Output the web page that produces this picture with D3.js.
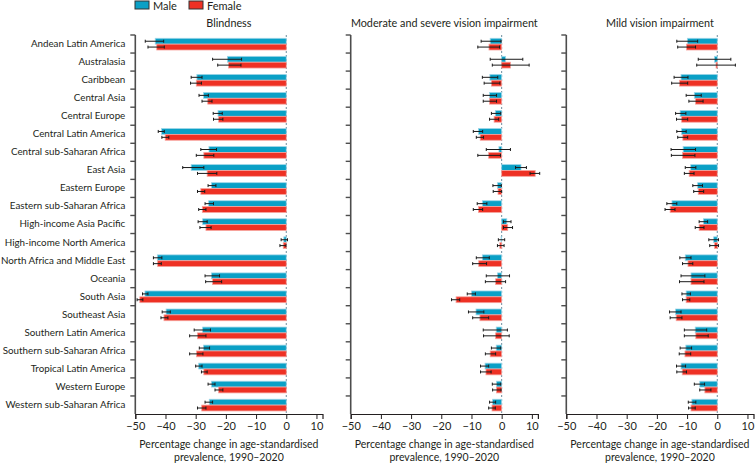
<!DOCTYPE html>
<html>
<head>
<meta charset="utf-8">
<script src="https://cdn.jsdelivr.net/npm/d3@7"></script>
<style>
html,body{margin:0;padding:0;background:#fff;}
svg{display:block;}
text{font-family:Lato,"Noto Sans",sans-serif;fill:#231f20;}
</style>
</head>
<body>
<svg id="chart" width="755" height="464"></svg>
<script>
const categories = ["Andean Latin America","Australasia","Caribbean","Central Asia","Central Europe","Central Latin America","Central sub-Saharan Africa","East Asia","Eastern Europe","Eastern sub-Saharan Africa","High-income Asia Pacific","High-income North America","North Africa and Middle East","Oceania","South Asia","Southeast Asia","Southern Latin America","Southern sub-Saharan Africa","Tropical Latin America","Western Europe","Western sub-Saharan Africa"];
const panelTitles = ["Blindness","Moderate and severe vision impairment","Mild vision impairment"];
const sexes = ["Male","Female"];
const xTicks = [-50,-40,-30,-20,-10,0,10];

// Blindness
const blindMale    = [-43.4,-19.5,-29.6,-27.4,-22.6,-41.3,-25.6,-31.5,-24.8,-25.7,-27.7,-0.8,-42.7,-24.8,-46.8,-39.8,-27.7,-27.4,-29.0,-24.8,-25.5];
const blindMaleLo  = [-46.7,-24.4,-31.5,-28.9,-24.2,-42.4,-28.3,-34.3,-25.9,-26.9,-29.2,-1.7,-44.0,-26.9,-47.6,-41.1,-30.5,-28.8,-30.0,-25.9,-26.9];
const blindMaleHi  = [-40.6,-14.8,-27.9,-25.8,-21.2,-40.4,-23.1,-27.3,-23.3,-24.1,-26.2,0.4,-41.2,-22.1,-45.8,-38.4,-25.1,-25.4,-27.9,-23.6,-24.4];
const blindFem     = [-42.9,-19.1,-29.8,-26.0,-22.4,-40.1,-27.3,-26.2,-28.3,-27.8,-26.6,-1.0,-42.6,-24.4,-48.5,-40.5,-29.4,-29.7,-27.3,-22.4,-28.0];
const blindFemLo   = [-45.8,-22.7,-31.7,-27.9,-24.1,-41.2,-29.8,-29.4,-29.4,-29.0,-28.6,-2.1,-44.0,-26.7,-49.4,-41.5,-32.0,-32.0,-28.1,-23.6,-29.4];
const blindFemHi   = [-40.4,-15.0,-28.1,-24.6,-21.0,-38.9,-24.0,-23.0,-27.0,-26.6,-24.9,-0.1,-41.4,-21.4,-47.5,-39.2,-26.6,-27.6,-26.2,-21.0,-26.6];

// Moderate and severe vision impairment
const mvsMale      = [-3.8,1.3,-3.9,-4.0,-2.1,-7.7,-0.9,6.4,-1.4,-6.4,1.7,-0.2,-6.4,-1.4,-10.0,-8.5,-1.8,-1.8,-5.5,-1.7,-3.0];
const mvsMaleLo    = [-6.8,-3.8,-6.4,-6.1,-3.4,-9.4,-5.1,4.6,-2.9,-8.1,0.6,-1.1,-8.4,-5.1,-11.4,-11.0,-6.1,-3.4,-7.0,-3.1,-4.0];
const mvsMaleHi    = [-0.2,7.0,-1.3,-1.7,-0.3,-6.3,2.9,8.2,-0.1,-4.9,3.1,1.0,-4.1,2.6,-8.7,-5.9,1.9,-0.3,-4.3,-0.3,-2.0];
const mvsFem       = [-4.2,2.9,-3.4,-4.0,-2.5,-7.1,-4.3,11.1,-1.2,-7.7,2.0,-0.6,-7.6,-2.0,-15.1,-7.2,-2.0,-3.8,-5.2,-1.7,-3.2];
const mvsFemLo     = [-7.9,-3.1,-5.8,-6.1,-4.0,-8.4,-7.9,9.4,-2.8,-9.4,0.6,-1.4,-9.6,-5.4,-16.6,-9.6,-6.0,-5.4,-7.0,-3.0,-4.3];
const mvsFemHi     = [-0.7,9.1,-0.6,-1.7,-1.0,-6.0,-0.4,12.6,0.0,-6.3,3.6,0.8,-5.0,1.3,-13.9,-4.3,2.5,-2.0,-3.5,-0.2,-2.1];

// Mild vision impairment
const mildMale     = [-9.9,-0.9,-12.0,-7.6,-12.3,-11.8,-11.3,-8.8,-6.5,-15.0,-4.6,-1.2,-10.6,-8.7,-10.3,-13.8,-7.3,-10.4,-12.0,-5.8,-8.4];
const mildMaleLo   = [-13.4,-6.3,-14.3,-10.3,-13.8,-13.4,-15.3,-10.6,-8.1,-16.7,-6.0,-2.8,-12.4,-12.0,-11.7,-15.8,-10.9,-12.3,-13.5,-7.6,-9.6];
const mildMaleHi   = [-6.5,4.5,-9.7,-5.3,-10.4,-10.3,-7.2,-7.1,-4.9,-13.4,-3.2,0.4,-8.7,-4.1,-8.9,-12.0,-3.5,-8.5,-10.5,-4.2,-7.1];
const mildFem      = [-10.2,-0.4,-12.5,-7.2,-11.8,-11.4,-11.5,-9.3,-6.3,-15.6,-6.0,-0.9,-9.7,-8.7,-10.3,-13.6,-7.1,-10.7,-11.6,-4.1,-8.7];
const mildFemLo    = [-13.1,-6.8,-15.1,-9.4,-13.5,-13.1,-15.2,-10.9,-7.8,-17.3,-7.3,-2.5,-11.5,-12.5,-11.5,-15.6,-10.9,-12.6,-13.4,-5.8,-9.5];
const mildFemHi    = [-7.2,6.0,-9.8,-4.7,-9.8,-9.8,-7.4,-7.7,-4.5,-14.0,-4.4,0.4,-8.1,-4.4,-9.1,-11.7,-3.0,-8.8,-10.2,-2.1,-7.3];

const panels = [
  {title: panelTitles[0], series: [[blindMale,blindMaleLo,blindMaleHi],[blindFem,blindFemLo,blindFemHi]]},
  {title: panelTitles[1], series: [[mvsMale,mvsMaleLo,mvsMaleHi],[mvsFem,mvsFemLo,mvsFemHi]]},
  {title: panelTitles[2], series: [[mildMale,mildMaleLo,mildMaleHi],[mildFem,mildFemLo,mildFemHi]]}
];

const colors = {Male: "#0aa0c6", Female: "#ee3124"};
const halo = {Male: "#9fd6e8", Female: "#f7a39d"};

const svg = d3.select("#chart");
const yTop = 35, yBottom = 414;
const y = d3.scaleBand().domain(categories).range([yTop, yBottom]).paddingInner(0).paddingOuter(0);
const ySex = d3.scaleBand().domain(sexes).range([3.3, 15]).padding(0);

const panelLeft = [135.3, 350.7, 566.3];
const panelWidth = 187.2;

panels.forEach((p, pi) => {
  const x = d3.scaleLinear().domain([-50, 12]).range([panelLeft[pi], panelLeft[pi] + panelWidth]);
  const g = svg.append("g");

  // zero dashed line
  g.append("line")
    .attr("x1", x(0)).attr("x2", x(0))
    .attr("y1", yTop).attr("y2", yBottom)
    .attr("stroke", "#6f8e9e").attr("stroke-width", 1).attr("stroke-dasharray", "2,2");

  // bars
  p.series.forEach((s, si) => {
    const sex = sexes[si];
    const [vals, lo, hi] = s;
    g.append("g").selectAll("rect").data(categories).join("rect")
      .attr("x", (d, i) => Math.min(x(0), x(vals[i])))
      .attr("width", (d, i) => Math.abs(x(vals[i]) - x(0)))
      .attr("y", d => y(d) + ySex(sex))
      .attr("height", ySex.bandwidth())
      .attr("fill", colors[sex])
      .attr("stroke", halo[sex]).attr("stroke-width", 0.8);

    const eg = g.append("g").attr("stroke", "#1a1a1a").attr("stroke-width", 1);
    categories.forEach((c, i) => {
      const cy = y(c) + ySex(sex) + ySex.bandwidth() / 2;
      eg.append("line").attr("x1", x(lo[i])).attr("x2", x(hi[i])).attr("y1", cy).attr("y2", cy);
      eg.append("line").attr("x1", x(lo[i])).attr("x2", x(lo[i])).attr("y1", cy - 1.5).attr("y2", cy + 1.5);
      eg.append("line").attr("x1", x(hi[i])).attr("x2", x(hi[i])).attr("y1", cy - 1.5).attr("y2", cy + 1.5);
    });
  });

  // y axis
  const yl = panelLeft[pi];
  g.append("line").attr("x1", yl).attr("x2", yl).attr("y1", yTop).attr("y2", yBottom)
    .attr("stroke", "#4d4d4d").attr("stroke-width", 1.6);
  g.append("g").selectAll("line").data(categories).join("line")
    .attr("x1", yl - 5).attr("x2", yl)
    .attr("y1", d => y(d)).attr("y2", d => y(d))
    .attr("stroke", "#4d4d4d").attr("stroke-width", 1.4);

  if (pi === 0) {
    g.append("g").selectAll("text").data(categories).join("text")
      .attr("x", yl - 10)
      .attr("y", d => y(d) + y.bandwidth() / 2 + 0.5)
      .attr("text-anchor", "end")
      .attr("dominant-baseline", "middle")
      .attr("font-size", "9.8px")
      .text(d => d);
  }

  // x axis
  const xa = g.append("g").attr("transform", `translate(0,${yBottom})`)
    .call(d3.axisBottom(x).tickValues(xTicks).tickSize(5).tickPadding(3)
      .tickFormat(d => d < 0 ? "\u2212" + Math.abs(d) : String(d)));
  xa.select(".domain").attr("stroke", "#231f20").attr("stroke-width", 1.2);
  xa.selectAll(".tick line").attr("stroke", "#231f20").attr("stroke-width", 1);
  xa.selectAll(".tick text").attr("font-size", "11px").attr("font-family", "Lato,'Noto Sans',sans-serif").attr("fill", "#231f20");

  const cx = panelLeft[pi] + panelWidth / 2;
  g.append("text").attr("x", cx).attr("y", 448).attr("text-anchor", "middle").attr("font-size", "10.5px")
    .text("Percentage change in age-standardised");
  g.append("text").attr("x", cx).attr("y", 461).attr("text-anchor", "middle").attr("font-size", "10.5px")
    .text("prevalence, 1990\u20132020");

  g.append("text").attr("x", cx).attr("y", 26.5).attr("text-anchor", "middle").attr("font-size", "10.8px")
    .text(p.title);
});

// legend
const legend = svg.append("g");
const legendX = [135, 189];
sexes.forEach((s, i) => {
  legend.append("rect").attr("x", legendX[i]).attr("y", 1).attr("width", 14).attr("height", 8)
    .attr("fill", colors[s]).attr("stroke", "#333").attr("stroke-width", 1);
  legend.append("text").attr("x", legendX[i] + 18).attr("y", 9.5).attr("font-size", "11px").text(s);
});
</script>
</body>
</html>
